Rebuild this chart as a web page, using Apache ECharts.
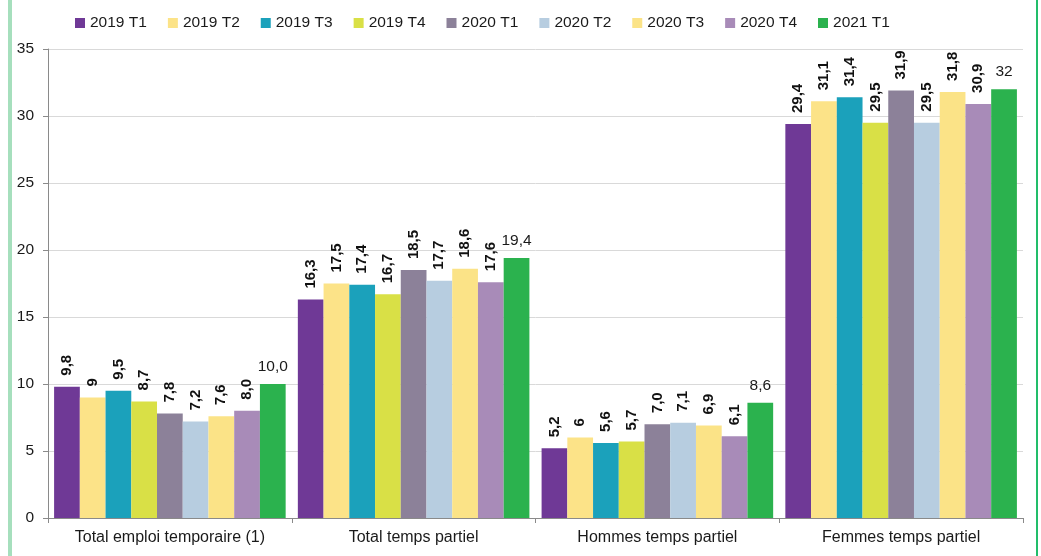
<!DOCTYPE html>
<html>
<head>
<meta charset="utf-8">
<script src="https://cdn.jsdelivr.net/npm/echarts@6/dist/echarts.min.js"></script>
<style>
  html, body { margin: 0; padding: 0; background: #fff; }
  #chart { width: 1041px; height: 556px; }
</style>
</head>
<body>
<div id="chart"></div>
<script>
const categories = ['Total emploi temporaire (1)', 'Total temps partiel', 'Hommes temps partiel', 'Femmes temps partiel']
const seriesNames = ['2019 T1', '2019 T2', '2019 T3', '2019 T4', '2020 T1', '2020 T2', '2020 T3', '2020 T4', '2021 T1']
const colors = ['#6f3996', '#fce388', '#1ba1bb', '#d9e046', '#8c8199', '#b7cde0', '#fbe387', '#a88bb8', '#2bb24e']

const v2019T1 = [9.8, 16.3, 5.2, 29.4]
const v2019T2 = [9, 17.5, 6, 31.1]
const v2019T3 = [9.5, 17.4, 5.6, 31.4]
const v2019T4 = [8.7, 16.7, 5.7, 29.5]
const v2020T1 = [7.8, 18.5, 7.0, 31.9]
const v2020T2 = [7.2, 17.7, 7.1, 29.5]
const v2020T3 = [7.6, 18.6, 6.9, 31.8]
const v2020T4 = [8.0, 17.6, 6.1, 30.9]
const v2021T1 = [10.0, 19.4, 8.6, 32]

// labels printed without a decimal in the source: [series, category]
const plainLabels = [[1, 0], [1, 2], [8, 3]]

const yTicks = [0, 5, 10, 15, 20, 25, 30, 35]

const allValues = [v2019T1, v2019T2, v2019T3, v2019T4, v2020T1, v2020T2, v2020T3, v2020T4, v2021T1]

function fmt(si, ci, val) {
  const plain = plainLabels.some(p => p[0] === si && p[1] === ci)
  return plain ? String(val) : val.toFixed(1).replace('.', ',')
}

const font = '"Liberation Sans", Arial, sans-serif'
const last = allValues.length - 1

const series = allValues.map((vals, si) => ({
  name: seriesNames[si],
  type: 'bar',
  data: vals,
  barGap: '0%',
  barCategoryGap: '5%',
  itemStyle: { color: colors[si] },
  label: si === last ? {
    show: true,
    position: 'top',
    distance: 9,
    fontFamily: font,
    fontSize: 15.5,
    color: '#1a1a1a',
    formatter: p => fmt(si, p.dataIndex, p.value)
  } : {
    show: true,
    position: 'top',
    rotate: 90,
    align: 'left',
    verticalAlign: 'middle',
    distance: 11,
    fontFamily: font,
    fontSize: 15,
    fontWeight: 'bold',
    color: '#111',
    formatter: p => fmt(si, p.dataIndex, p.value)
  }
}))

const chart = echarts.init(document.getElementById('chart'))
chart.setOption({
  animation: false,
  color: colors,
  textStyle: { fontFamily: font },
  graphic: [
    { type: 'rect', shape: { x: 8, y: 0, width: 4, height: 556 }, style: { fill: '#a6dfbd' }, silent: true },
    { type: 'rect', shape: { x: 1036, y: 0, width: 2, height: 556 }, style: { fill: '#22bd6a' }, silent: true }
  ],
  legend: {
    data: seriesNames,
    left: 70,
    top: 10,
    icon: 'rect',
    itemWidth: 10,
    itemHeight: 10,
    itemGap: 21,
    textStyle: { fontSize: 15.5, color: '#1a1a1a', fontFamily: font }
  },
  grid: { left: 48, right: 18, top: 49, bottom: 38 },
  xAxis: {
    type: 'category',
    data: categories,
    axisLine: { lineStyle: { color: '#8a8a8a', width: 1 } },
    axisTick: { show: true, interval: 0, alignWithLabel: false, length: 5, lineStyle: { color: '#8a8a8a' } },
    axisLabel: { interval: 0, fontSize: 16, color: '#1a1a1a', margin: 12, fontFamily: font }
  },
  yAxis: {
    type: 'value',
    min: yTicks[0],
    max: yTicks[yTicks.length - 1],
    interval: 5,
    axisLine: { show: true, lineStyle: { color: '#8a8a8a', width: 1 } },
    axisTick: { show: true, length: 5, lineStyle: { color: '#8a8a8a' } },
    axisLabel: { fontSize: 15.5, color: '#1a1a1a', margin: 14, fontFamily: font },
    splitLine: { lineStyle: { color: '#d9d9d9', width: 1 } }
  },
  series: series
})
</script>
</body>
</html>
